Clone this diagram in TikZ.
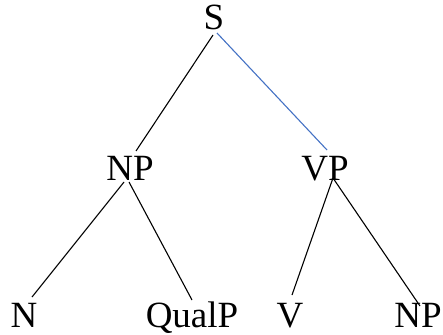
\documentclass[tikz,border=0pt]{standalone}
\usepackage{fontspec}
\setmainfont{Liberation Serif}
\definecolor{officeblue}{RGB}{68,114,196}
\begin{document}
\begin{tikzpicture}[x=1pt,y=-1pt,
  lbl/.style={anchor=base,inner sep=0pt,font=\fontsize{37}{44}\selectfont},
  edge/.style={line width=1.1pt,black},
  blueedge/.style={line width=1.1pt,officeblue}]
\useasboundingbox (0,0) rectangle (443,334);
\node[lbl] (S) at (214,30) {S};
\node[lbl] (NP) at (130,180) {NP};
\node[lbl] (VP) at (325,180) {VP};
\node[lbl] (N) at (24,327) {N};
\node[lbl] (QualP) at (192,327) {QualP};
\node[lbl] (V) at (290,327) {V};
\node[lbl] (NPb) at (418,327) {NP};
% connector end points
\coordinate (s1) at (213,35);
\coordinate (s2) at (217,33);
\coordinate (np0) at (136,151);
\coordinate (vp0) at (327,150);
\coordinate (np1) at (124,182);
\coordinate (np2) at (129,182);
\coordinate (n0) at (32,297);
\coordinate (q0) at (192,300);
\coordinate (vp1) at (333,178);
\coordinate (v0) at (292,295);
\coordinate (npb0) at (420,306);
\draw[edge] (s1) -- (np0);
\draw[blueedge] (s2) -- (vp0);
\draw[edge] (np1) -- (n0);
\draw[edge] (np2) -- (q0);
\draw[edge] (vp1) -- (v0);
\draw[edge] (vp1) -- (npb0);
\end{tikzpicture}
\end{document}
